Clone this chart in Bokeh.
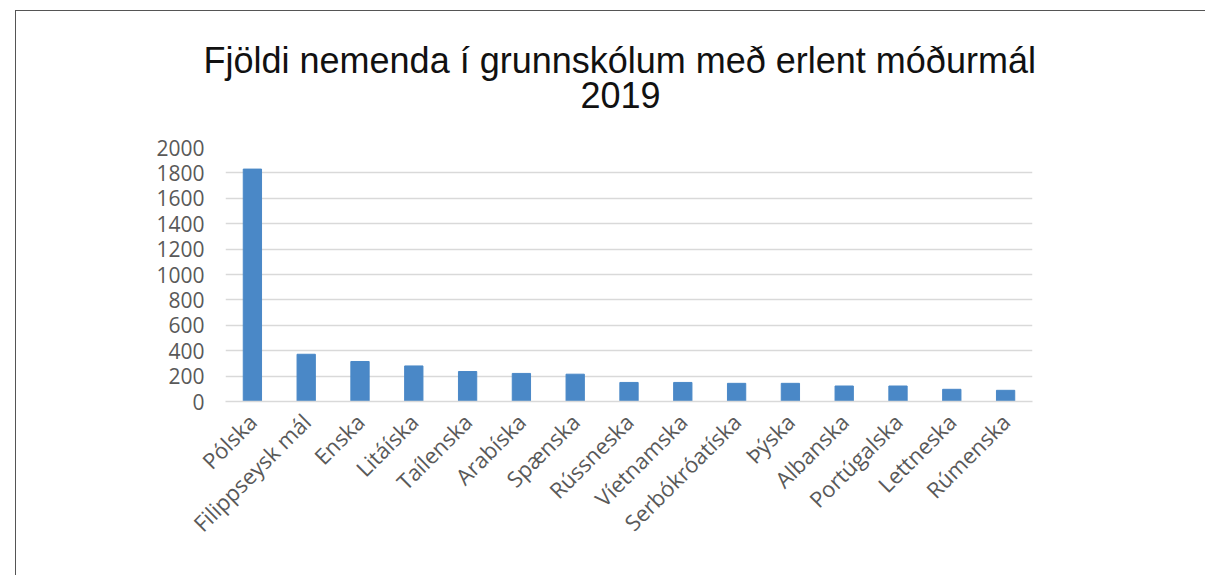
from math import pi
from bokeh.plotting import figure
from bokeh.models import ColumnDataSource, Title, FixedTicker
from bokeh.embed import file_html
from bokeh.resources import INLINE

title_line1 = "Fjöldi nemenda í grunnskólum með erlent móðurmál"
title_line2 = "2019"
languages = ["Pólska", "Filippseysk mál", "Enska", "Litáíska", "Taílenska", "Arabíska",
             "Spænska", "Rússneska", "Víetnamska", "Serbókróatíska", "Þýska", "Albanska",
             "Portúgalska", "Lettneska", "Rúmenska"]
students = [1830, 372, 315, 280, 236, 221, 215, 150, 150, 143, 143, 122, 122, 96, 88]
y_ticks = [0, 200, 400, 600, 800, 1000, 1200, 1400, 1600, 1800, 2000]

source = ColumnDataSource(dict(lang=languages, n=students))

p = figure(x_range=languages, y_range=(0, 2000), width=1190, height=565,
           output_backend="svg", toolbar_location=None, tools="",
           min_border_left=209, min_border_right=174, min_border_top=136,
           min_border_bottom=175)
p.margin = (10, 0, 0, 15)
p.styles = {"border-top": "1.5px solid #555555", "border-left": "1.5px solid #555555"}

p.vbar(x="lang", top="n", width=0.34, source=source, color="#4A88C7")

p.add_layout(Title(text=title_line2, align="left", text_font="Liberation Sans",
                   text_font_size="36px", text_font_style="normal",
                   text_color="#111111", offset=355, standoff=80), "above")
p.add_layout(Title(text=title_line1, align="left",
                   text_font="Liberation Sans", text_font_size="36px",
                   text_font_style="normal", text_color="#111111", offset=-22, standoff=-83),
             "above")

p.outline_line_color = None
p.background_fill_color = "white"
p.border_fill_color = "white"

p.xgrid.grid_line_color = None
p.ygrid.grid_line_color = "#d9d9d9"
p.ygrid.grid_line_width = 1.3
p.yaxis.ticker = FixedTicker(ticks=y_ticks)

p.yaxis.axis_line_color = None
p.yaxis.major_tick_line_color = None
p.yaxis.minor_tick_line_color = None
p.yaxis.major_label_standoff = 15
p.yaxis.major_label_text_font = "Open Sans"
p.yaxis.major_label_text_font_size = "21px"
p.yaxis.major_label_text_color = "#595959"

p.xaxis.axis_line_color = "#d9d9d9"
p.xaxis.axis_line_width = 1.3
p.xaxis.major_tick_line_color = None
p.xaxis.minor_tick_line_color = None
p.xaxis.major_label_orientation = pi / 4
p.xaxis.major_label_standoff = 10
p.xaxis.major_label_text_font = "Open Sans"
p.xaxis.major_label_text_font_size = "22px"
p.xaxis.major_label_text_color = "#595959"

open("out.html", "w").write(file_html(p, INLINE))
